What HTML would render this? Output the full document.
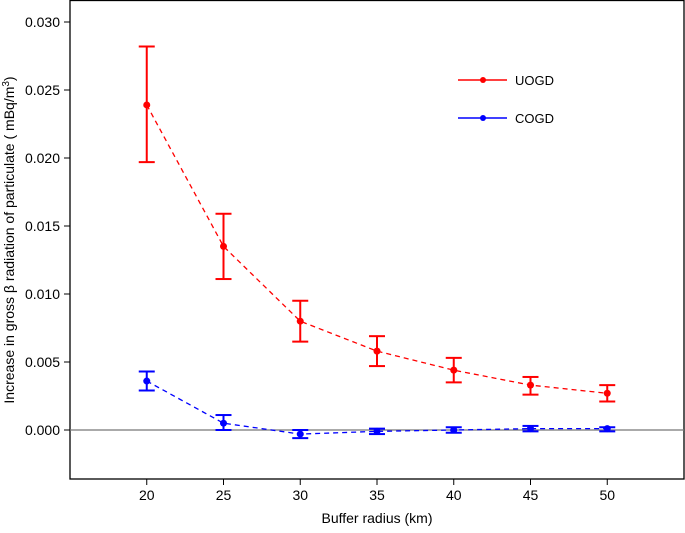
<!DOCTYPE html>
<html><head><meta charset="utf-8"><style>
body{margin:0;background:#fff;}
svg text{font-family:"Liberation Sans",Arial,sans-serif;}
</style></head><body>
<svg id="chart" width="685" height="528" xmlns="http://www.w3.org/2000/svg">
<rect x="70" y="0.5" width="614" height="478.5" fill="none" stroke="#000" stroke-width="1.3"/>
<g id="axes"></g>
<g id="marks"></g>
<g>
<line x1="458" y1="80" x2="507" y2="80" stroke="#f00" stroke-width="1.5"/><circle cx="483" cy="80" r="3" fill="#f00"/>
<text x="515" y="85" font-size="13">UOGD</text>
<line x1="458" y1="118" x2="507" y2="118" stroke="#00f" stroke-width="1.5"/><circle cx="483" cy="118" r="3" fill="#00f"/>
<text x="515" y="123" font-size="13">COGD</text>
</g>
<text x="377" y="523" font-size="14" text-anchor="middle">Buffer radius (km)</text>
<text transform="translate(14,240) rotate(-90)" font-size="14" text-anchor="middle">Increase in gross β radiation of particulate ( mBq/m<tspan dy="-5" font-size="10">3</tspan><tspan dy="5">)</tspan></text>
</svg>
<script>
const radii=[20,25,30,35,40,45,50];
const uogdMean=[0.0239,0.0135,0.0080,0.0058,0.0044,0.0033,0.0027];
const uogdLow=[0.0197,0.0111,0.0065,0.0047,0.0035,0.0026,0.0021];
const uogdHigh=[0.0282,0.0159,0.0095,0.0069,0.0053,0.0039,0.0033];
const cogdMean=[0.0036,0.0005,-0.0003,-0.0001,0.0000,0.0001,0.0001];
const cogdLow=[0.0029,0.0000,-0.0006,-0.0003,-0.0002,-0.0001,-0.0001];
const cogdHigh=[0.0043,0.0011,0.0000,0.0001,0.0002,0.0003,0.0002];
const yTicks=["0.000","0.005","0.010","0.015","0.020","0.025","0.030"];
const xTicks=["20","25","30","35","40","45","50"];
const NS="http://www.w3.org/2000/svg";
const X=v=>70+(v-15)*(614/40);
const Y=v=>430-v*13600;
const axes=document.getElementById('axes'),marks=document.getElementById('marks');
function mk(tag,attrs,parent){const e=document.createElementNS(NS,tag);for(const k in attrs)e.setAttribute(k,attrs[k]);parent.appendChild(e);return e;}
yTicks.forEach(t=>{const y=Y(+t);
const l=mk('line',{x1:64,x2:70,y1:y,y2:y,stroke:'#000'},axes);


const tx=mk('text',{x:60,y:y+5,'font-size':14,'text-anchor':'end'},axes);tx.textContent=t;

});
xTicks.forEach(t=>{const x=X(+t);
const l=mk('line',{x1:x,x2:x,y1:479,y2:485,stroke:'#000'},axes);


const tx=mk('text',{x:x,y:500,'font-size':14,'text-anchor':'middle'},axes);tx.textContent=t;

});
const zl=mk('line',{x1:70,x2:684,y1:Y(0),y2:Y(0),stroke:'#777','stroke-width':1.2},axes);


function series(name,color,mean,low,high){
const d=radii.map((r,i)=>(i?'L':'M')+X(r)+','+Y(mean[i])).join(' ');
const p=mk('path',{d:d,fill:'none',stroke:color,'stroke-width':1.3,'stroke-dasharray':'5,4'},marks);


radii.forEach((r,i)=>{const x=X(r);
const g=mk('g',{stroke:color,'stroke-width':2},marks);


mk('line',{x1:x,x2:x,y1:Y(low[i]),y2:Y(high[i])},g);
mk('line',{x1:x-8,x2:x+8,y1:Y(low[i]),y2:Y(low[i])},g);
mk('line',{x1:x-8,x2:x+8,y1:Y(high[i]),y2:Y(high[i])},g);
const c=mk('circle',{cx:x,cy:Y(mean[i]),r:3.5,fill:color},marks);

});}
series('uogd','#f00',uogdMean,uogdLow,uogdHigh);
series('cogd','#00f',cogdMean,cogdLow,cogdHigh);
</script>
</body></html>
